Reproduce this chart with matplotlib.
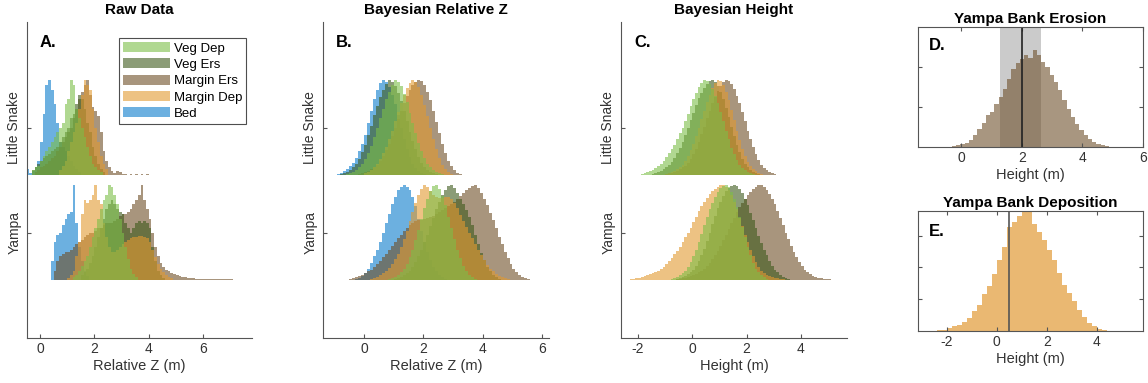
import numpy as np
import matplotlib
matplotlib.use('Agg')
import matplotlib.pyplot as plt
from matplotlib.patches import Patch

plt.rcParams['font.family'] = ['Liberation Sans', 'DejaVu Sans']
plt.rcParams['axes.unicode_minus'] = False

# ---------------- data ----------------
categories = ['Veg Dep', 'Veg Ers', 'Margin Ers', 'Margin Dep', 'Bed']
rivers = ['Yampa', 'Little Snake']
panel_titles = ['Raw Data', 'Bayesian Relative Z', 'Bayesian Height']
x_ticks_a = [0, 2, 4, 6]
x_ticks_b = [0, 2, 4, 6]
x_ticks_c = [-2, 0, 2, 4]
x_ticks_d = [0, 2, 4, 6]
x_ticks_e = [-2, 0, 2, 4]

# Panel A (raw), Little Snake, bins 0.1 m; each list: normalised bin heights
a_ls_start = {'Veg Dep': -0.3, 'Veg Ers': -0.3, 'Margin Ers': -0.2, 'Margin Dep': 0.7, 'Bed': -0.5}
a_ls_vegdep = [0.05, 0.08, 0.1, 0.15, 0.2, 0.25, 0.3, 0.35, 0.4, 0.45, 0.5, 0.55, 0.75, 0.8, 1.0, 0.95,
               0.7, 0.6, 0.5, 0.4, 0.3, 0.2, 0.12, 0.08, 0.05, 0.03]
a_ls_vegers = [0.05, 0.08, 0.12, 0.15, 0.18, 0.2, 0.22, 0.25, 0.28, 0.3, 0.35, 0.4, 0.45, 0.5, 0.6, 0.65,
               0.75, 0.85, 0.8, 0.7, 0.55, 0.45, 0.3, 0.2, 0.12, 0.06, 0.03]
a_ls_marginers = [0.03, 0.05, 0.08, 0.1, 0.12, 0.15, 0.18, 0.2, 0.25, 0.3, 0.35, 0.4, 0.45, 0.5, 0.6, 0.7,
                  0.8, 0.88, 0.95, 1.0, 0.85, 0.72, 0.68, 0.62, 0.45, 0.25, 0.15, 0.08, 0.04, 0.02, 0.04,
                  0.03, 0.01, 0.01, 0.0, 0.01, 0.0, 0.01, 0.0, 0.01, 0.0, 0.01]
a_ls_margindep = [0.05, 0.1, 0.15, 0.25, 0.35, 0.45, 0.55, 0.7, 0.85, 1.0, 0.95, 0.9, 0.7, 0.5, 0.35, 0.2,
                  0.12, 0.06]
a_ls_bed = [0.06, 0.02, 0.04, 0.08, 0.15, 0.35, 0.65, 0.95, 1.0, 0.9, 0.75, 0.55, 0.35, 0.3, 0.25, 0.2,
            0.15, 0.1, 0.06, 0.03]

# Panel A (raw), Yampa, bins 0.1 m
a_ya_start = {'Veg Dep': 1.2, 'Veg Ers': 1.5, 'Margin Ers': 0.5, 'Margin Dep': 1.0, 'Bed': 0.4}
a_ya_vegdep = [0.03, 0.05, 0.1, 0.15, 0.2, 0.25, 0.35, 0.45, 0.55, 0.65, 0.75, 0.85, 0.9, 1.0, 0.98, 0.9,
               0.8, 0.65, 0.5, 0.35, 0.22, 0.12, 0.06, 0.03]
a_ya_vegers = [0.05, 0.08, 0.12, 0.18, 0.25, 0.35, 0.45, 0.55, 0.65, 0.75, 0.8, 0.85, 0.8, 0.75, 0.72, 0.7,
               0.6, 0.55, 0.5, 0.55, 0.6, 0.62, 0.6, 0.62, 0.6, 0.55, 0.35, 0.2, 0.1, 0.05, 0.02]
a_ya_marginers = [0.1, 0.2, 0.25, 0.28, 0.3, 0.3, 0.32, 0.35, 0.38, 0.4, 0.42, 0.45, 0.48, 0.5, 0.5, 0.52,
                  0.55, 0.55, 0.58, 0.6, 0.6, 0.6, 0.62, 0.65, 0.68, 0.7, 0.7, 0.72, 0.75, 0.8, 0.85, 0.9,
                  1.0, 0.85, 0.75, 0.65, 0.5, 0.35, 0.25, 0.18, 0.14, 0.11, 0.09, 0.07, 0.06, 0.05, 0.04,
                  0.035, 0.03, 0.025, 0.02, 0.02, 0.015, 0.015, 0.01, 0.01, 0.01, 0.01, 0.008, 0.008,
                  0.008, 0.008, 0.006, 0.006, 0.006, 0.006, 0.005, 0.005, 0.005, 0.005, 0.005, 0.005,
                  0.005]
a_ya_margindep = [0.02, 0.05, 0.1, 0.25, 0.4, 0.7, 0.85, 0.82, 0.85, 0.9, 1.0, 0.85, 0.8, 0.6, 0.45, 0.35,
                  0.3, 0.3, 0.32, 0.35, 0.38, 0.4, 0.42, 0.44, 0.45, 0.46, 0.47, 0.47, 0.46, 0.44, 0.4,
                  0.32, 0.24, 0.17, 0.12, 0.08, 0.05, 0.03, 0.02]
a_ya_bed = [0.2, 0.4, 0.48, 0.5, 0.58, 0.65, 0.7, 0.72, 1.0, 0.6, 0.35, 0.2, 0.1, 0.04]

# Panel B (Bayesian relative Z), bins 0.1 m
b_ls_start = {'Veg Dep': -0.6, 'Veg Ers': -0.8, 'Margin Ers': -0.2, 'Margin Dep': 0.0, 'Bed': -0.9}
b_ls_vegdep = [0.01, 0.02, 0.03, 0.05, 0.08, 0.12, 0.17, 0.23, 0.31, 0.4, 0.5, 0.6, 0.7, 0.8, 0.88, 0.95,
               1.0, 0.98, 0.94, 0.86, 0.77, 0.66, 0.55, 0.44, 0.34, 0.25, 0.18, 0.12, 0.08, 0.05, 0.03,
               0.02, 0.01]
b_ls_vegers = [0.01, 0.02, 0.03, 0.05, 0.08, 0.12, 0.17, 0.24, 0.32, 0.42, 0.52, 0.63, 0.73, 0.82, 0.9,
               0.96, 1.0, 0.98, 0.94, 0.87, 0.78, 0.68, 0.57, 0.46, 0.36, 0.27, 0.19, 0.13, 0.08, 0.05,
               0.03, 0.02, 0.01]
b_ls_marginers = [0.01, 0.02, 0.03, 0.04, 0.06, 0.08, 0.11, 0.15, 0.2, 0.26, 0.33, 0.41, 0.5, 0.59, 0.68,
                  0.76, 0.84, 0.9, 0.95, 0.98, 1.0, 0.99, 0.95, 0.88, 0.79, 0.68, 0.56, 0.44, 0.33, 0.23,
                  0.15, 0.09, 0.05, 0.02, 0.01]
b_ls_margindep = [0.02, 0.03, 0.05, 0.08, 0.12, 0.17, 0.23, 0.3, 0.38, 0.47, 0.57, 0.67, 0.76, 0.85, 0.92,
                  0.97, 1.0, 0.98, 0.93, 0.85, 0.74, 0.62, 0.5, 0.38, 0.27, 0.18, 0.11, 0.06, 0.03, 0.01]
b_ls_bed = [0.01, 0.02, 0.04, 0.06, 0.09, 0.13, 0.18, 0.25, 0.33, 0.42, 0.55, 0.68, 0.8, 0.9, 0.97, 1.0,
            0.98, 0.93, 0.85, 0.75, 0.63, 0.5, 0.38, 0.28, 0.19, 0.12, 0.07, 0.04, 0.02, 0.01]

b_ya_start = {'Veg Dep': 0.8, 'Veg Ers': 1.0, 'Margin Ers': -0.5, 'Margin Dep': 0.2, 'Bed': -0.3}
b_ya_vegdep = [0.01, 0.02, 0.03, 0.05, 0.08, 0.12, 0.17, 0.24, 0.32, 0.42, 0.53, 0.65, 0.76, 0.86, 0.94,
               0.99, 1.0, 0.96, 0.89, 0.79, 0.67, 0.55, 0.43, 0.32, 0.23, 0.15, 0.09, 0.05, 0.03, 0.01]
b_ya_vegers = [0.01, 0.02, 0.03, 0.05, 0.07, 0.1, 0.14, 0.19, 0.25, 0.32, 0.4, 0.48, 0.57, 0.66, 0.75,
               0.83, 0.9, 0.95, 0.99, 1.0, 0.97, 0.92, 0.86, 0.8, 0.74, 0.67, 0.58, 0.48, 0.38, 0.29,
               0.21, 0.14, 0.09, 0.05, 0.03, 0.01]
b_ya_marginers = [0.01, 0.02, 0.03, 0.04, 0.05, 0.07, 0.09, 0.11, 0.14, 0.17, 0.2, 0.24, 0.28, 0.32, 0.36,
                  0.4, 0.44, 0.48, 0.52, 0.55, 0.58, 0.6, 0.62, 0.63, 0.64, 0.65, 0.66, 0.67, 0.68, 0.7,
                  0.72, 0.74, 0.76, 0.78, 0.8, 0.83, 0.86, 0.89, 0.92, 0.95, 0.97, 0.99, 1.0, 0.97, 0.92,
                  0.86, 0.79, 0.71, 0.63, 0.55, 0.46, 0.38, 0.3, 0.23, 0.17, 0.12, 0.08, 0.05, 0.03,
                  0.02, 0.01]
b_ya_margindep = [0.01, 0.02, 0.03, 0.05, 0.07, 0.1, 0.13, 0.17, 0.22, 0.28, 0.35, 0.43, 0.52, 0.62, 0.72,
                  0.82, 0.9, 0.96, 1.0, 0.98, 0.94, 0.9, 0.88, 0.87, 0.87, 0.88, 0.88, 0.86, 0.82, 0.76,
                  0.69, 0.62, 0.56, 0.5, 0.44, 0.38, 0.32, 0.26, 0.21, 0.16, 0.12, 0.09, 0.06, 0.04, 0.03,
                  0.02, 0.01]
b_ya_bed = [0.01, 0.02, 0.04, 0.07, 0.12, 0.18, 0.25, 0.32, 0.4, 0.5, 0.6, 0.7, 0.8, 0.88, 0.95, 0.98, 1.0,
            0.98, 0.95, 0.88, 0.78, 0.65, 0.52, 0.4, 0.3, 0.21, 0.14, 0.09, 0.05, 0.03, 0.01]

# Panel C (Bayesian height), bins 0.1 m (no Bed)
c_ls_start = {'Veg Dep': -1.9, 'Veg Ers': -1.5, 'Margin Ers': -1.0, 'Margin Dep': -1.0}
c_ls_vegdep = [0.01, 0.02, 0.03, 0.04, 0.05, 0.07, 0.09, 0.12, 0.15, 0.19, 0.23, 0.27, 0.32, 0.38, 0.44,
               0.5, 0.57, 0.65, 0.73, 0.8, 0.87, 0.93, 0.97, 1.0, 0.99, 0.96, 0.91, 0.84, 0.76, 0.67,
               0.57, 0.47, 0.38, 0.29, 0.22, 0.16, 0.11, 0.07, 0.05, 0.03, 0.02, 0.01]
c_ls_vegers = [0.01, 0.02, 0.03, 0.04, 0.06, 0.08, 0.11, 0.14, 0.18, 0.23, 0.29, 0.35, 0.42, 0.5, 0.58,
               0.66, 0.74, 0.81, 0.87, 0.92, 0.96, 0.99, 1.0, 0.98, 0.94, 0.88, 0.8, 0.71, 0.61, 0.51,
               0.41, 0.32, 0.24, 0.17, 0.12, 0.08, 0.05, 0.03, 0.02, 0.01]
c_ls_marginers = [0.01, 0.02, 0.02, 0.03, 0.04, 0.06, 0.08, 0.1, 0.13, 0.17, 0.22, 0.28, 0.35, 0.43, 0.51,
                  0.6, 0.68, 0.76, 0.83, 0.89, 0.94, 0.98, 1.0, 0.99, 0.96, 0.91, 0.84, 0.76, 0.67, 0.57,
                  0.47, 0.38, 0.3, 0.22, 0.16, 0.11, 0.07, 0.05, 0.03, 0.02, 0.01]
c_ls_margindep = [0.01, 0.02, 0.03, 0.04, 0.06, 0.08, 0.11, 0.15, 0.2, 0.26, 0.33, 0.41, 0.5, 0.59, 0.68,
                  0.77, 0.85, 0.92, 0.97, 1.0, 0.99, 0.95, 0.88, 0.79, 0.69, 0.58, 0.47, 0.37, 0.28, 0.2,
                  0.14, 0.09, 0.06, 0.04, 0.02, 0.01]

c_ya_start = {'Veg Dep': -0.8, 'Veg Ers': -0.6, 'Margin Ers': -0.6, 'Margin Dep': -2.3}
c_ya_vegdep = [0.01, 0.02, 0.03, 0.05, 0.07, 0.1, 0.14, 0.19, 0.25, 0.32, 0.4, 0.49, 0.58, 0.67, 0.75,
               0.82, 0.88, 0.93, 0.97, 0.99, 1.0, 0.98, 0.93, 0.86, 0.77, 0.67, 0.56, 0.45, 0.35, 0.26,
               0.18, 0.12, 0.08, 0.05, 0.03, 0.01]
c_ya_vegers = [0.01, 0.02, 0.03, 0.04, 0.06, 0.08, 0.11, 0.15, 0.2, 0.26, 0.33, 0.41, 0.5, 0.59, 0.68,
               0.76, 0.83, 0.89, 0.94, 0.97, 0.99, 1.0, 0.99, 0.96, 0.92, 0.86, 0.79, 0.71, 0.63, 0.55,
               0.47, 0.39, 0.32, 0.26, 0.2, 0.15, 0.11, 0.08, 0.05, 0.03, 0.02, 0.01]
c_ya_marginers = [0.01, 0.01, 0.02, 0.02, 0.03, 0.04, 0.05, 0.06, 0.08, 0.1, 0.12, 0.15, 0.18, 0.22, 0.26,
                  0.31, 0.36, 0.42, 0.48, 0.54, 0.6, 0.66, 0.72, 0.77, 0.82, 0.86, 0.9, 0.93, 0.96, 0.98,
                  1.0, 1.0, 0.98, 0.95, 0.91, 0.86, 0.8, 0.73, 0.66, 0.58, 0.5, 0.43, 0.36, 0.3, 0.24,
                  0.19, 0.15, 0.11, 0.08, 0.06, 0.04, 0.03, 0.02, 0.02, 0.01, 0.01, 0.01]
c_ya_margindep = [0.01, 0.01, 0.02, 0.02, 0.03, 0.04, 0.05, 0.06, 0.07, 0.08, 0.1, 0.12, 0.14, 0.17, 0.2,
                  0.23, 0.27, 0.31, 0.35, 0.4, 0.45, 0.5, 0.55, 0.61, 0.67, 0.73, 0.78, 0.83, 0.87, 0.91,
                  0.94, 0.96, 0.98, 1.0, 1.0, 0.98, 0.95, 0.9, 0.83, 0.75, 0.66, 0.57, 0.48, 0.4, 0.32,
                  0.25, 0.19, 0.14, 0.1, 0.07, 0.05, 0.04, 0.03, 0.02, 0.02, 0.01, 0.01]

# Panel D: Yampa bank erosion height, bins 0.14 m
d_start = -0.3
d_counts = [0.02, 0.04, 0.07, 0.1, 0.17, 0.29, 0.45, 0.6, 0.8, 0.88, 1.07, 1.25, 1.46, 1.71, 1.96, 2.1,
            2.2, 2.29, 2.23, 2.42, 2.29, 2.13, 2.0, 1.79, 1.63, 1.42, 1.17, 0.96, 0.75, 0.57, 0.42, 0.29,
            0.21, 0.13, 0.07, 0.04, 0.02]
d_interval = [1.3, 2.65]
d_median = 2.0

# Panel E: Yampa bank deposition height, bins 0.2 m
e_start = -2.4
e_counts = [0.02, 0.04, 0.09, 0.15, 0.2, 0.27, 0.41, 0.62, 0.82, 1.17, 1.4, 1.8, 2.23, 2.65, 3.26, 3.44,
            3.6, 3.77, 3.77, 3.375, 3.1, 2.85, 2.54, 2.23, 1.81, 1.45, 1.19, 0.93, 0.67, 0.45, 0.25,
            0.15, 0.06, 0.03, 0.01]
e_median = 0.47

# ---------------- styles ----------------
colors = {'Veg Dep': '#7cbe48', 'Veg Ers': '#3e5a1c', 'Margin Ers': '#6e4e26',
          'Margin Dep': '#e29a30', 'Bed': '#0a7ccc'}
ALPHA = 0.6
SPINE = '#555555'
base = {'Yampa': 1.0, 'Little Snake': 2.0}
SCALE = 0.9
draw_order = ['Bed', 'Margin Ers', 'Veg Ers', 'Margin Dep', 'Veg Dep']

W, H = 1148, 383
fig = plt.figure(figsize=(W / 100, H / 100), dpi=100)


def px_axes(l, t, r, b):
    return fig.add_axes([l / W, 1 - b / H, (r - l) / W, (b - t) / H])


def stairs(ax, x0, width, h, baseline, color, alpha, scale=SCALE):
    h = np.asarray(h, dtype=float)
    edges = x0 + width * np.arange(len(h) + 1)
    ax.stairs(baseline + scale * h, edges, baseline=baseline, fill=True,
              color=color, alpha=alpha, lw=0)


def style_ridge(ax, xlim, xticks, xlabel, title, letter):
    ax.set_xlim(*xlim)
    ax.set_ylim(0.4476, 3.457)
    for s in ['top', 'right']:
        ax.spines[s].set_visible(False)
    for s in ['left', 'bottom']:
        ax.spines[s].set_color(SPINE)
        ax.spines[s].set_linewidth(0.8)
    ax.set_xticks(xticks)
    ax.set_xticklabels([str(t) for t in xticks])
    ax.set_yticks([base['Yampa'] + 0.448, base['Little Snake'] + 0.448])
    ax.set_yticklabels(rivers, rotation=90, va='center')
    ax.tick_params(direction='in', length=3, color=SPINE, labelsize=10, pad=3,
                   labelcolor='#333333')
    ax.tick_params(axis='y', pad=4)
    ax.set_xlabel(xlabel, fontsize=10.5, color='#333333', labelpad=2)
    ax.set_title(title, fontsize=11, fontweight='bold', pad=6)
    ax.text(0.058, 0.935, letter, transform=ax.transAxes, fontsize=12, fontweight='bold',
            va='center', ha='left')


# Panel A
axA = px_axes(27, 22, 252, 338)
a_ls = {'Veg Dep': a_ls_vegdep, 'Veg Ers': a_ls_vegers, 'Margin Ers': a_ls_marginers,
        'Margin Dep': a_ls_margindep, 'Bed': a_ls_bed}
a_ya = {'Veg Dep': a_ya_vegdep, 'Veg Ers': a_ya_vegers, 'Margin Ers': a_ya_marginers,
        'Margin Dep': a_ya_margindep, 'Bed': a_ya_bed}
for cat in draw_order:
    stairs(axA, a_ls_start[cat], 0.1, a_ls[cat], base['Little Snake'], colors[cat], ALPHA)
    stairs(axA, a_ya_start[cat], 0.1, a_ya[cat], base['Yampa'], colors[cat], ALPHA)
style_ridge(axA, (-0.48, 7.8), x_ticks_a, 'Relative Z (m)', panel_titles[0], 'A.')
handles = [Patch(facecolor=colors[c], alpha=ALPHA, edgecolor='none') for c in categories]
leg = axA.legend(handles, categories, loc='upper left', bbox_to_anchor=(119 / W, 1 - 38 / H),
                 bbox_transform=fig.transFigure, fontsize=9.5, frameon=True, fancybox=False,
                 edgecolor='#222222', handlelength=3.6, handleheight=0.8, handletextpad=0.25,
                 labelspacing=0.28, borderpad=0.3, borderaxespad=0)
leg.get_frame().set_linewidth(0.8)

# Panel B
axB = px_axes(323, 22, 549, 338)
b_ls = {'Veg Dep': b_ls_vegdep, 'Veg Ers': b_ls_vegers, 'Margin Ers': b_ls_marginers,
        'Margin Dep': b_ls_margindep, 'Bed': b_ls_bed}
b_ya = {'Veg Dep': b_ya_vegdep, 'Veg Ers': b_ya_vegers, 'Margin Ers': b_ya_marginers,
        'Margin Dep': b_ya_margindep, 'Bed': b_ya_bed}
for cat in draw_order:
    stairs(axB, b_ls_start[cat], 0.1, b_ls[cat], base['Little Snake'], colors[cat], ALPHA)
    stairs(axB, b_ya_start[cat], 0.1, b_ya[cat], base['Yampa'], colors[cat], ALPHA)
style_ridge(axB, (-1.38, 6.23), x_ticks_b, 'Relative Z (m)', panel_titles[1], 'B.')

# Panel C
axC = px_axes(621, 22, 847, 338)
c_ls = {'Veg Dep': c_ls_vegdep, 'Veg Ers': c_ls_vegers, 'Margin Ers': c_ls_marginers,
        'Margin Dep': c_ls_margindep}
c_ya = {'Veg Dep': c_ya_vegdep, 'Veg Ers': c_ya_vegers, 'Margin Ers': c_ya_marginers,
        'Margin Dep': c_ya_margindep}
for cat in draw_order[1:]:
    stairs(axC, c_ls_start[cat], 0.1, c_ls[cat], base['Little Snake'], colors[cat], ALPHA)
    stairs(axC, c_ya_start[cat], 0.1, c_ya[cat], base['Yampa'], colors[cat], ALPHA)
style_ridge(axC, (-2.63, 5.7), x_ticks_c, 'Height (m)', panel_titles[2], 'C.')


def style_box(ax, xlim, ylim, yticks, xticks, title, letter, ly):
    ax.set_xlim(*xlim)
    ax.set_ylim(*ylim)
    ax.set_xticks(xticks)
    ax.set_xticklabels([str(t) for t in xticks])
    ax.set_yticks(yticks)
    ax.set_yticklabels([])
    for s in ax.spines.values():
        s.set_color(SPINE)
        s.set_linewidth(0.8)
    ax.tick_params(direction='in', length=3, color=SPINE, labelsize=10, pad=3,
                   top=True, right=True, labelcolor='#333333')
    ax.set_xlabel('Height (m)', fontsize=10.5, color='#333333', labelpad=2)
    ax.set_title(title, fontsize=11, fontweight='bold', pad=3)
    ax.text(0.05, ly, letter, transform=ax.transAxes, fontsize=12, fontweight='bold',
            va='center', ha='left')


# Panel D
axD = px_axes(918, 27, 1143, 147)
axD.axvspan(d_interval[0], d_interval[1], color='#cbcbcb', lw=0, zorder=0)
d_edges = d_start + 0.14 * np.arange(len(d_counts) + 1)
axD.stairs(d_counts, d_edges, baseline=0, fill=True, color='#6e502b', alpha=0.6,
           lw=0, zorder=1)
axD.axvline(d_median, color='#222222', lw=1.2, zorder=2)
style_box(axD, (-1.42, 6.0), (0, 3), [1, 2], x_ticks_d, 'Yampa Bank Erosion', 'D.', 0.85)

# Panel E
axE = px_axes(918, 211, 1143, 331)
e_edges = e_start + 0.2 * np.arange(len(e_counts) + 1)
axE.stairs(e_counts, e_edges, baseline=0, fill=True, color='#e39d3c', alpha=0.72,
           lw=0, zorder=1)
axE.axvline(e_median, color='#555555', lw=1.2, zorder=2)
style_box(axE, (-3.15, 5.85), (0, 3.77), [1, 2, 3], x_ticks_e, 'Yampa Bank Deposition', 'E.', 0.825)

fig.savefig('out.png', dpi=100)
